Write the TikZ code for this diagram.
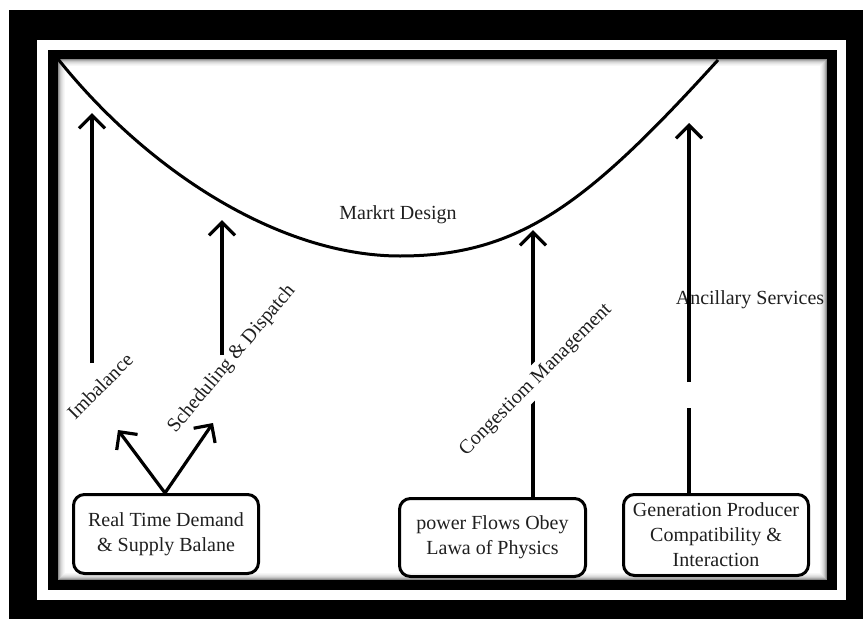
\documentclass[tikz,border=0pt]{standalone}
\usepackage{fontspec}
\setmainfont{Liberation Serif}
\usetikzlibrary{arrows.meta}
\tikzset{
  thick line/.style={line width=3.2pt, black},
  arr/.style={thick line, -{Straight Barb[length=13pt,width=26pt]}},
  box/.style={draw, line width=3pt, rounded corners=11pt, align=center,
    font=\fontsize{20}{25}\selectfont, text=black!88, inner sep=0pt},
  lbl/.style={font=\fontsize{20}{25}\selectfont, text=black!88},
}
\begin{document}
\begin{tikzpicture}[x=1pt,y=-1pt]
\useasboundingbox (0,0) rectangle (863,619);
% frame
\fill[black] (9,10) rectangle (863,619);
\fill[white] (37,40) rectangle (846,600);
\fill[black] (48,50) rectangle (837,590);
\fill[white] (58,59) rectangle (827,580);
\foreach \i/\o in {1/0.45,2/0.32,3/0.22,4/0.15,5/0.1,6/0.06,7/0.03}
  \draw[black, opacity=\o, line width=1pt] (58+\i-0.5,59+\i-0.5) rectangle (827-\i+0.5,580-\i+0.5);

% market design curve
\coordinate (cL) at (58,59);
\coordinate (cB) at (400,256);
\coordinate (cR) at (718,60);
\draw[thick line, line width=3pt] (cL) .. controls (148,171.5) and (280,256) .. (cB)
  .. controls (520,256) and (588,203) .. (cR);
\node[lbl] (md) at (398,215) {Markrt Design};

% boxes
\node[box, minimum width=185pt, minimum height=79pt] (b1) at (166,534) {Real Time Demand\\\& Supply Balane};
\node[box, minimum width=186pt, minimum height=78pt] (b2) at (492.5,537.5) {power Flows Obey\\Lawa of Physics};
\node[box, minimum width=185pt, minimum height=81pt] (b3) at (716,535) {Generation Producer\\Compatibility \&\\Interaction};

% coordinates
\coordinate (tImb) at (92,113);
\coordinate (sImb) at (92,363);
\coordinate (tSch) at (222,220);
\coordinate (sSch) at (222,355);
\coordinate (tL) at (118,430);
\coordinate (tR) at (213,423);
\coordinate (tCon) at (533,230);
\coordinate (tAnc) at (689,123);
\coordinate (gAncLow) at (689,408);
\coordinate (gAncHigh) at (689,382);

% arrows
\draw[arr] (sImb) -- (tImb);
\draw[arr] (sSch) -- (tSch);
\draw[arr] ([xshift=-1pt]b1.north) -- (tL);
\draw[arr] ([xshift=-1pt]b1.north) -- (tR);
\draw[arr] (b2.north -| tCon) -- (tCon);

\node[lbl] (anc) at (750,300) {Ancillary Services};
\draw[thick line] (b3.north -| tAnc) -- (gAncLow);
\draw[arr] (gAncHigh) -- (tAnc);

% rotated labels
\node[lbl, rotate=45] (imb) at (100,386) {Imbalance};
\node[lbl, rotate=50] (sch) at (232,359) {Scheduling \& Dispatch};
\node[lbl, rotate=45, fill=white, inner sep=5pt] (con) at (536,380) {Congestiom Management};
\end{tikzpicture}
\end{document}
